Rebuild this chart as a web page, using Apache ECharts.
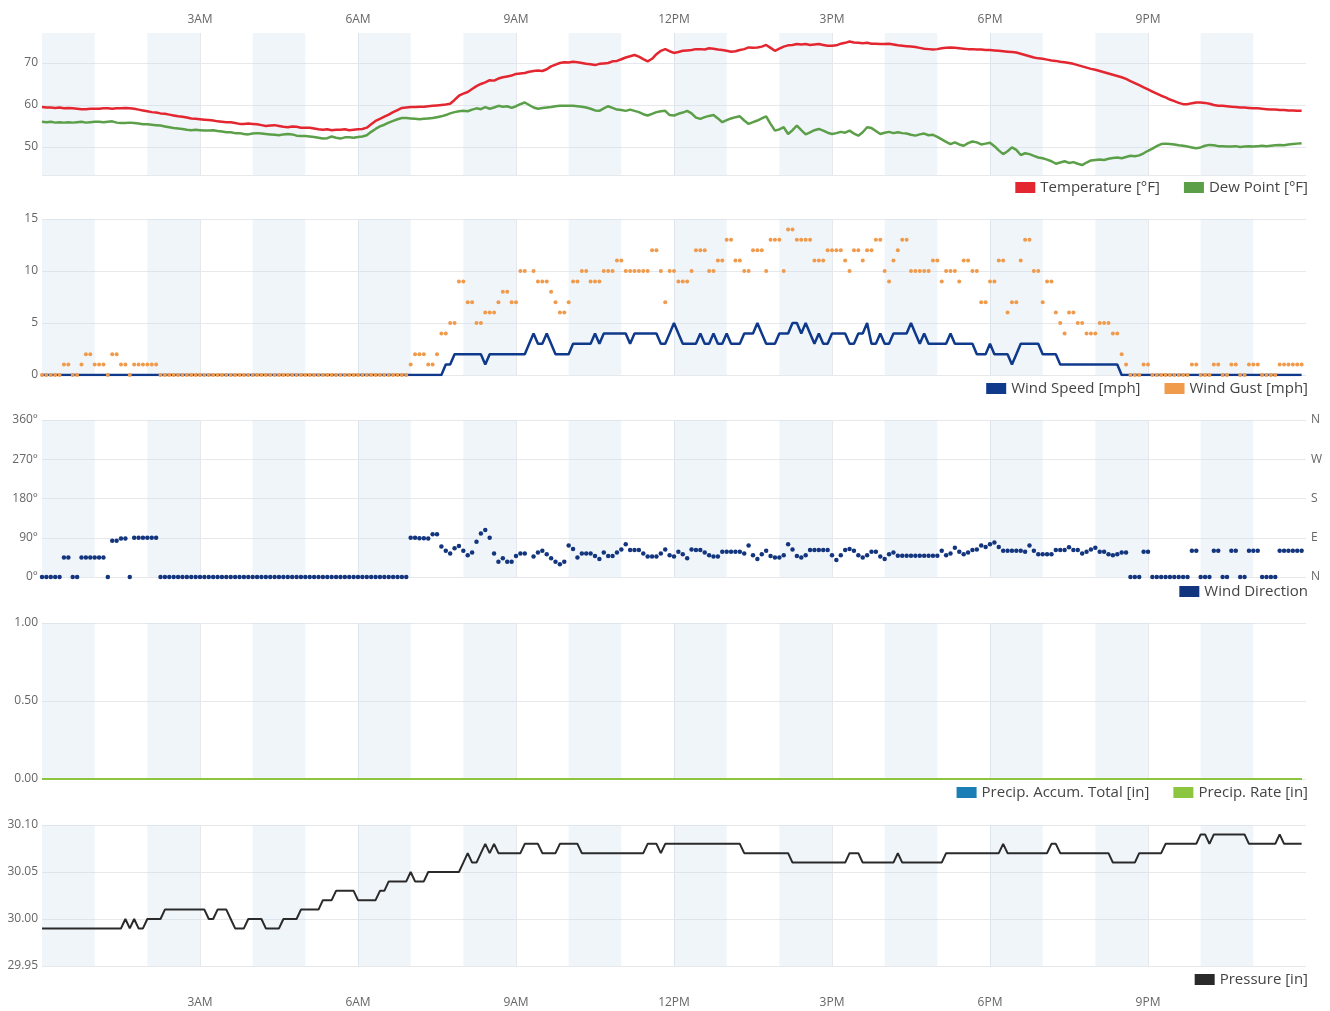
<!DOCTYPE html>
<html><head><meta charset="utf-8">
<script src="https://cdn.jsdelivr.net/npm/echarts@6/dist/echarts.min.js"></script>
<style>html,body{margin:0;padding:0;background:#fff}#c{width:1330px;height:1011px}</style>
</head><body><div id="c"></div>
<script>
// ---- data (5-minute readings, 00:00 .. 23:55) ----
const stepMinutes = 5;
const hourTickLabels = ['', '3AM', '6AM', '9AM', '12PM', '3PM', '6PM', '9PM', ''];
const shadedHours = [0, 2, 4, 6, 8, 10, 12, 14, 16, 18, 20, 22];
const compassLabels = ['N', 'E', 'S', 'W', 'N'];

const temperature = [
59.5,59.4,59.4,59.3,59.4,59.2,59.3,59.2,59.1,59.0,59.0,59.1,
59.1,59.1,59.2,59.2,59.1,59.2,59.2,59.3,59.2,59.1,58.9,58.7,
58.5,58.3,58.2,58.0,57.9,57.7,57.5,57.3,57.2,57.0,56.8,56.7,
56.6,56.5,56.4,56.3,56.1,56.0,55.9,55.9,55.7,55.5,55.5,55.6,
55.5,55.4,55.2,55.0,55.1,55.2,55.0,54.8,54.7,54.9,54.8,54.6,
54.6,54.6,54.4,54.2,54.1,54.2,54.0,54.1,54.1,54.2,54.0,54.1,
54.2,54.3,54.6,55.4,56.2,56.7,57.2,57.7,58.3,58.8,59.3,59.4,
59.5,59.5,59.6,59.6,59.7,59.8,59.9,60.0,60.1,60.3,61.2,62.2,
62.7,63.1,63.8,64.5,65.0,65.4,65.9,65.8,66.3,66.6,66.8,67.0,
67.4,67.5,67.6,67.9,68.1,68.2,68.1,68.5,69.2,69.6,70.0,70.2,
70.1,70.3,70.2,70.0,69.8,69.7,69.5,69.8,69.9,70.0,70.4,70.5,
70.9,71.3,71.6,71.9,71.5,70.9,70.4,71.0,72.1,72.9,73.3,72.8,
72.4,72.6,72.9,73.0,73.1,73.3,73.3,73.2,73.5,73.4,73.2,73.1,
72.9,72.7,72.8,73.1,73.3,73.7,73.6,73.7,73.9,74.3,73.6,72.9,
73.4,73.9,74.2,74.3,74.5,74.4,74.5,74.3,74.4,74.5,74.3,74.1,
74.1,74.2,74.6,74.8,75.1,74.9,74.8,74.7,74.8,74.6,74.6,74.5,
74.5,74.6,74.4,74.2,74.1,74.0,73.9,73.8,73.6,73.4,73.3,73.2,
73.3,73.5,73.6,73.7,73.6,73.5,73.4,73.3,73.3,73.2,73.2,73.1,
73.1,73.0,72.9,72.8,72.7,72.6,72.5,72.2,71.9,71.6,71.3,71.1,
71.0,70.8,70.6,70.5,70.3,70.2,70.0,69.8,69.5,69.2,68.9,68.6,
68.4,68.1,67.8,67.5,67.2,66.9,66.6,66.2,65.7,65.2,64.7,64.2,
63.7,63.2,62.7,62.2,61.8,61.3,60.9,60.5,60.2,60.2,60.4,60.6,
60.6,60.5,60.3,60.0,59.8,59.8,59.7,59.6,59.5,59.4,59.4,59.3,
59.2,59.2,59.1,59.0,58.9,58.9,58.8,58.8,58.7,58.7,58.6,58.6];

const dewPoint = [
56.0,55.9,56.0,55.8,55.9,55.8,55.9,55.8,55.9,56.0,55.8,55.9,
56.0,56.0,55.9,56.0,56.1,55.8,55.7,55.7,55.8,55.7,55.6,55.4,
55.4,55.3,55.2,55.1,54.9,54.7,54.5,54.4,54.3,54.1,54.0,54.1,
54.0,53.9,53.9,54.0,53.8,53.7,53.5,53.5,53.3,53.3,53.1,53.0,
53.2,53.3,53.2,53.1,53.0,52.9,52.8,53.0,53.1,53.0,52.7,52.6,
52.6,52.5,52.4,52.2,52.0,52.1,52.5,52.2,52.0,52.3,52.3,52.2,
52.4,52.5,52.8,53.6,54.3,54.9,55.3,55.8,56.2,56.6,56.9,56.9,
56.8,56.7,56.6,56.7,56.8,56.9,57.1,57.3,57.6,58.0,58.3,58.5,
58.6,58.5,58.9,59.2,59.0,59.5,59.1,59.4,59.8,59.6,59.7,59.3,
59.7,60.2,60.6,60.0,59.4,59.1,59.3,59.4,59.5,59.7,59.8,59.8,
59.8,59.8,59.7,59.6,59.4,59.1,58.7,58.6,59.2,59.7,59.3,58.9,
58.8,58.6,58.9,58.6,58.3,57.8,57.5,57.9,58.3,58.5,58.6,57.6,
57.5,57.9,58.2,58.6,58.0,57.0,56.7,57.1,57.4,57.6,56.8,55.9,
56.4,56.8,57.1,57.3,56.3,55.5,55.9,56.3,56.8,57.3,55.5,53.9,
54.2,54.7,53.1,54.0,55.1,54.0,53.0,53.5,54.0,54.3,53.9,53.4,
53.1,53.3,53.6,53.4,53.9,53.2,52.7,53.5,54.7,54.5,53.8,53.1,
53.4,53.6,53.3,53.5,53.3,53.2,52.9,52.7,53.0,53.2,52.8,52.9,
52.4,51.8,51.2,50.7,51.1,50.6,50.3,50.9,51.3,51.1,50.6,50.8,
51.0,50.2,49.2,48.3,49.0,49.9,49.3,48.1,48.5,48.3,47.9,47.5,
47.3,47.0,46.6,46.0,46.3,46.6,46.2,46.4,46.0,45.7,46.3,46.8,
46.9,47.0,46.9,47.2,47.4,47.5,47.3,47.6,47.9,47.8,48.0,48.5,
49.1,49.6,50.2,50.7,50.8,50.7,50.6,50.4,50.3,50.1,49.9,49.7,
49.9,50.3,50.5,50.4,50.2,50.2,50.1,50.1,50.2,50.0,50.1,50.2,
50.1,50.2,50.3,50.2,50.3,50.4,50.5,50.4,50.6,50.7,50.8,50.9];

const windSpeed = [
0,0,0,0,0,0,0,0,0,0,0,0, 0,0,0,0,0,0,0,0,0,0,0,0,
0,0,0,0,0,0,0,0,0,0,0,0, 0,0,0,0,0,0,0,0,0,0,0,0,
0,0,0,0,0,0,0,0,0,0,0,0, 0,0,0,0,0,0,0,0,0,0,0,0,
0,0,0,0,0,0,0,0,0,0,0,0,
0,0,0,0,0,0,0,0,1,1,2,2,
2,2,2,2,2,1,2,2,2,2,2,2,
2,2,2,3,4,3,3,4,3,2,2,2,
2,3,3,3,3,3,4,3,4,4,4,4,
4,4,3,4,4,4,4,4,4,3,3,4,
5,4,3,3,3,3,4,3,3,4,3,3,
4,3,3,3,4,4,4,5,4,3,3,3,
4,4,4,5,5,4,5,4,3,4,3,3,
4,4,4,4,3,3,4,4,5,3,3,4,
3,3,4,4,4,4,5,4,3,4,3,3,
3,3,3,4,3,3,3,3,3,2,2,2,
3,2,2,2,2,1,2,3,3,3,3,3,
2,2,2,2,1,1,1,1,1,1,1,1,
1,1,1,1,1,1,0,0,0,0,0,0,
0,0,0,0,0,0,0,0,0,0,0,0, 0,0,0,0,0,0,0,0,0,0,0,0,
0,0,0,0,0,0,0,0,0,0,0,0];

const windGust = [
0,0,0,0,0,1,1,0,0,1,2,2,
1,1,1,0,2,2,1,1,0,1,1,1,
1,1,1,0,0,0,0,0,0,0,0,0,
0,0,0,0,0,0,0,0,0,0,0,0, 0,0,0,0,0,0,0,0,0,0,0,0,
0,0,0,0,0,0,0,0,0,0,0,0, 0,0,0,0,0,0,0,0,0,0,0,0,
1,2,2,2,1,1,2,4,4,5,5,9,
9,7,7,5,5,6,6,6,7,8,8,7,
7,10,10,null,10,9,9,9,8,7,6,6,
7,9,9,10,10,9,9,9,10,10,10,11,
11,10,10,10,10,10,10,12,12,10,7,10,
10,9,9,9,10,12,12,12,10,10,11,11,
13,13,11,11,10,10,12,12,12,10,13,13,
13,10,14,14,13,13,13,13,11,11,11,12,
12,12,12,11,10,12,12,11,12,12,13,13,
10,9,11,12,13,13,10,10,10,10,10,11,
11,9,10,10,10,9,11,11,10,10,7,7,
9,9,11,11,6,7,7,11,13,13,10,10,
7,9,9,6,5,4,6,6,5,5,4,4,
4,5,5,5,4,4,2,1,0,0,0,1,
1,0,0,0,0,0,0,0,0,0,1,1,
0,0,0,1,1,0,0,1,1,0,0,1,
1,1,0,0,0,0,1,1,1,1,1,1];

const windDirection = [
0,0,0,0,0,45,45,0,0,45,45,45,
45,45,45,0,83,83,88,88,0,90,90,90,
90,90,90,0,0,0,0,0,0,0,0,0,
0,0,0,0,0,0,0,0,0,0,0,0, 0,0,0,0,0,0,0,0,0,0,0,0,
0,0,0,0,0,0,0,0,0,0,0,0, 0,0,0,0,0,0,0,0,0,0,0,0,
90,90,89,89,88,98,98,70,60,54,66,71,
60,50,56,81,100,108,90,54,35,43,35,35,
48,54,54,null,47,56,60,52,43,35,29,35,
72,64,45,54,54,54,48,41,56,48,48,56,
63,75,62,62,62,54,47,47,47,54,63,50,
47,58,52,43,63,62,62,56,50,47,47,58,
58,58,58,58,54,72,50,41,52,60,48,45,
45,50,75,63,48,45,50,62,62,62,62,62,
50,39,50,62,64,60,50,45,50,58,58,47,
41,52,56,49,49,49,49,49,49,49,49,49,
49,60,50,54,67,58,52,56,62,63,72,69,
75,79,69,60,60,60,60,60,58,72,60,52,
52,52,52,62,62,62,68,62,62,54,58,63,
67,58,58,52,50,52,56,56,0,0,0,58,
58,0,0,0,0,0,0,0,0,0,60,60,
0,0,0,60,60,0,0,60,60,0,0,60,
60,60,0,0,0,0,60,60,60,60,60,60];

const precipAccumTotal = [
0,0,0,0,0,0,0,0,0,0,0,0,0,0,0,0,0,0,0,0,0,0,0,0,0,0,0,0,0,0,0,0,0,0,0,0,0,0,0,0,0,0,0,0,0,0,0,0,
0,0,0,0,0,0,0,0,0,0,0,0,0,0,0,0,0,0,0,0,0,0,0,0,0,0,0,0,0,0,0,0,0,0,0,0,0,0,0,0,0,0,0,0,0,0,0,0,
0,0,0,0,0,0,0,0,0,0,0,0,0,0,0,0,0,0,0,0,0,0,0,0,0,0,0,0,0,0,0,0,0,0,0,0,0,0,0,0,0,0,0,0,0,0,0,0,
0,0,0,0,0,0,0,0,0,0,0,0,0,0,0,0,0,0,0,0,0,0,0,0,0,0,0,0,0,0,0,0,0,0,0,0,0,0,0,0,0,0,0,0,0,0,0,0,
0,0,0,0,0,0,0,0,0,0,0,0,0,0,0,0,0,0,0,0,0,0,0,0,0,0,0,0,0,0,0,0,0,0,0,0,0,0,0,0,0,0,0,0,0,0,0,0,
0,0,0,0,0,0,0,0,0,0,0,0,0,0,0,0,0,0,0,0,0,0,0,0,0,0,0,0,0,0,0,0,0,0,0,0,0,0,0,0,0,0,0,0,0,0,0,0];

const precipRate = [
0,0,0,0,0,0,0,0,0,0,0,0,0,0,0,0,0,0,0,0,0,0,0,0,0,0,0,0,0,0,0,0,0,0,0,0,0,0,0,0,0,0,0,0,0,0,0,0,
0,0,0,0,0,0,0,0,0,0,0,0,0,0,0,0,0,0,0,0,0,0,0,0,0,0,0,0,0,0,0,0,0,0,0,0,0,0,0,0,0,0,0,0,0,0,0,0,
0,0,0,0,0,0,0,0,0,0,0,0,0,0,0,0,0,0,0,0,0,0,0,0,0,0,0,0,0,0,0,0,0,0,0,0,0,0,0,0,0,0,0,0,0,0,0,0,
0,0,0,0,0,0,0,0,0,0,0,0,0,0,0,0,0,0,0,0,0,0,0,0,0,0,0,0,0,0,0,0,0,0,0,0,0,0,0,0,0,0,0,0,0,0,0,0,
0,0,0,0,0,0,0,0,0,0,0,0,0,0,0,0,0,0,0,0,0,0,0,0,0,0,0,0,0,0,0,0,0,0,0,0,0,0,0,0,0,0,0,0,0,0,0,0,
0,0,0,0,0,0,0,0,0,0,0,0,0,0,0,0,0,0,0,0,0,0,0,0,0,0,0,0,0,0,0,0,0,0,0,0,0,0,0,0,0,0,0,0,0,0,0,0];

const pressure = [
29.99,29.99,29.99,29.99,29.99,29.99,29.99,29.99,29.99,29.99,29.99,29.99,
29.99,29.99,29.99,29.99,29.99,29.99,29.99,30.00,29.99,30.00,29.99,29.99,
30.00,30.00,30.00,30.00,30.01,30.01,30.01,30.01,30.01,30.01,30.01,30.01,
30.01,30.01,30.00,30.00,30.01,30.01,30.01,30.00,29.99,29.99,29.99,30.00,
30.00,30.00,30.00,29.99,29.99,29.99,29.99,30.00,30.00,30.00,30.00,30.01,
30.01,30.01,30.01,30.01,30.02,30.02,30.02,30.03,30.03,30.03,30.03,30.03,
30.02,30.02,30.02,30.02,30.02,30.03,30.03,30.04,30.04,30.04,30.04,30.04,
30.05,30.04,30.04,30.04,30.05,30.05,30.05,30.05,30.05,30.05,30.05,30.05,
30.06,30.07,30.06,30.06,30.07,30.08,30.07,30.08,30.07,30.07,30.07,30.07,
30.07,30.07,30.08,30.08,30.08,30.08,30.07,30.07,30.07,30.07,30.08,30.08,
30.08,30.08,30.08,30.07,30.07,30.07,30.07,30.07,30.07,30.07,30.07,30.07,
30.07,30.07,30.07,30.07,30.07,30.07,30.08,30.08,30.08,30.07,30.08,30.08,
30.08,30.08,30.08,30.08,30.08,30.08,30.08,30.08,30.08,30.08,30.08,30.08,
30.08,30.08,30.08,30.08,30.07,30.07,30.07,30.07,30.07,30.07,30.07,30.07,
30.07,30.07,30.07,30.06,30.06,30.06,30.06,30.06,30.06,30.06,30.06,30.06,
30.06,30.06,30.06,30.06,30.07,30.07,30.07,30.06,30.06,30.06,30.06,30.06,
30.06,30.06,30.06,30.07,30.06,30.06,30.06,30.06,30.06,30.06,30.06,30.06,
30.06,30.06,30.07,30.07,30.07,30.07,30.07,30.07,30.07,30.07,30.07,30.07,
30.07,30.07,30.07,30.08,30.07,30.07,30.07,30.07,30.07,30.07,30.07,30.07,
30.07,30.07,30.08,30.08,30.07,30.07,30.07,30.07,30.07,30.07,30.07,30.07,
30.07,30.07,30.07,30.07,30.06,30.06,30.06,30.06,30.06,30.06,30.07,30.07,
30.07,30.07,30.07,30.07,30.08,30.08,30.08,30.08,30.08,30.08,30.08,30.08,
30.09,30.09,30.08,30.09,30.09,30.09,30.09,30.09,30.09,30.09,30.09,30.08,
30.08,30.08,30.08,30.08,30.08,30.08,30.09,30.08,30.08,30.08,30.08,30.08];

// ---- build ----
const pairs = arr => arr.map((v, i) => [i * stepMinutes, v]).filter(p => p[1] !== null);
const FONT = 'Open Sans';
const gridLine = '#e6e8eb';
const bands = shadedHours.map(h => [{xAxis: h * 60}, {xAxis: (h + 1) * 60}]);
const markArea = {silent: true, itemStyle: {color: 'rgba(205,222,240,0.30)'}, data: bands};

const gridDefs = [
  {top: 33, height: 142},
  {top: 219, height: 156},
  {top: 420, height: 157},
  {top: 623, height: 156},
  {top: 825, height: 141}
];
const grids = gridDefs.map(g => ({left: 42, right: 24, top: g.top, height: g.height, containLabel: false}));

const xAxes = gridDefs.map((g, k) => ({
  type: 'value', gridIndex: k, min: 0, max: 1440, interval: 180,
  position: k === 0 ? 'top' : 'bottom',
  axisLine: {show: false}, axisTick: {show: false},
  axisLabel: {show: k === 0 || k === 4, margin: k === 0 ? 7 : 31, color: '#666', fontFamily: FONT, fontSize: 12,
    formatter: v => hourTickLabels[Math.round(v / 180)]},
  splitLine: {show: true, showMinLine: false, showMaxLine: false, lineStyle: {color: gridLine, width: 1}}
}));

const yLabel = extra => Object.assign({color: '#666', fontFamily: FONT, fontSize: 12, margin: 4, padding: [4, 0, 0, 0]}, extra || {});
const yBase = (k, extra) => Object.assign({
  type: 'value', gridIndex: k,
  axisLine: {show: false}, axisTick: {show: false},
  axisLabel: yLabel(),
  splitLine: {show: true, lineStyle: {color: gridLine, width: 1}}
}, extra);

const yAxes = [
  yBase(0, {min: 43.33, max: 77.14,
    axisTick: {show: false, customValues: [43.33, 50, 60, 70]},
    axisLabel: yLabel({customValues: [50, 60, 70]})}),
  yBase(1, {min: 0, max: 15, interval: 5}),
  yBase(2, {min: 0, max: 360, interval: 90,
    axisLabel: yLabel({formatter: v => v + '°'})}),
  yBase(2, {min: 0, max: 360, interval: 90, position: 'right', splitLine: {show: false},
    axisLabel: yLabel({margin: 5, formatter: v => compassLabels[Math.round(v / 90)]})}),
  yBase(3, {min: 0, max: 1, interval: 0.5,
    axisLabel: yLabel({formatter: v => v.toFixed(2)})}),
  yBase(4, {min: 29.95, max: 30.10, interval: 0.05,
    axisLabel: yLabel({formatter: v => v.toFixed(2)})})
];

const lineS = (name, data, xi, yi, color, w, extra) => Object.assign({
  name, type: 'line', xAxisIndex: xi, yAxisIndex: yi, data: pairs(data),
  showSymbol: false, symbol: 'none', color,
  lineStyle: {color, width: w}, z: 3
}, extra || {});

const series = [
  lineS('Temperature [°F]', temperature, 0, 0, '#e3262f', 2.5, {markArea}),
  lineS('Dew Point [°F]', dewPoint, 0, 0, '#5b9f49', 2.5),
  lineS('Wind Speed [mph]', windSpeed, 1, 1, '#0f3a8c', 2.5, {markArea}),
  {name: 'Wind Gust [mph]', type: 'scatter', xAxisIndex: 1, yAxisIndex: 1, data: pairs(windGust),
   symbolSize: 4, color: '#f09a4c', itemStyle: {color: '#f09a4c', opacity: 1}, z: 4},
  {name: 'Wind Direction', type: 'scatter', xAxisIndex: 2, yAxisIndex: 2, data: pairs(windDirection),
   symbolSize: 4.5, color: '#12357e', itemStyle: {color: '#12357e', opacity: 1}, z: 4, markArea},
  lineS('Precip. Accum. Total [in]', precipAccumTotal, 3, 4, '#1a7db5', 2, {markArea}),
  lineS('Precip. Rate [in]', precipRate, 3, 4, '#8cc63f', 2),
  lineS('Pressure [in]', pressure, 4, 5, '#2a2a2a', 2, {markArea})
];

const legendBase = (data, top) => ({
  data, top, right: 22, padding: 0, icon: 'rect', itemWidth: 20, itemHeight: 11, itemGap: 24,
  selectedMode: false, textStyle: {color: '#444', fontFamily: FONT, fontSize: 15}
});

const option = {
  animation: false,
  backgroundColor: '#fff',
  grid: grids,
  xAxis: xAxes,
  yAxis: yAxes,
  legend: [
    legendBase(['Temperature [°F]', 'Dew Point [°F]'], 180),
    legendBase(['Wind Speed [mph]', 'Wind Gust [mph]'], 381),
    legendBase(['Wind Direction'], 584),
    legendBase(['Precip. Accum. Total [in]', 'Precip. Rate [in]'], 785),
    legendBase(['Pressure [in]'], 972)
  ],
  series
};
const chart = echarts.init(document.getElementById('c'), null, {renderer: 'canvas'});
chart.setOption(option);
</script></body></html>
